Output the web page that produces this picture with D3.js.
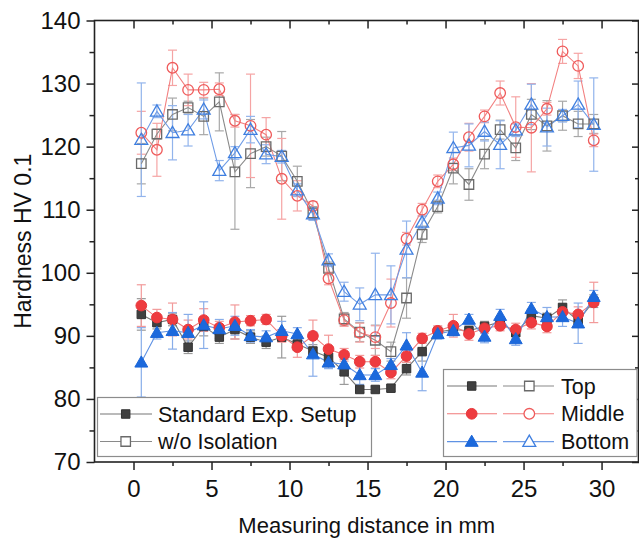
<!DOCTYPE html>
<html>
<head>
<meta charset="utf-8">
<script src="https://cdn.jsdelivr.net/npm/d3@7"></script>
<style>
  body { margin: 0; background: #fff; }
  text { font-family: Arial, "Liberation Sans", sans-serif; fill: #111; }
</style>
</head>
<body>
<div class="chart"></div>
<script>
// Data
var distance = [0.5, 1.5, 2.5, 3.5, 4.5, 5.5, 6.5, 7.5, 8.5, 9.5, 10.5, 11.5, 12.5, 13.5, 14.5,
  15.5, 16.5, 17.5, 18.5, 19.5, 20.5, 21.5, 22.5, 23.5, 24.5, 25.5, 26.5, 27.5, 28.5, 29.5];

// Standard Exp. Setup
var topStd = [93.4, 92.1, 92.6, 88.2, 91.5, 89.8, 91.0, 89.8, 89.0, 89.8, 88.7, 87.6, 86.6, 84.3, 81.5,
  81.5, 81.7, 84.8, 87.5, 90.6, 91.0, 90.8, 91.5, 92.2, 90.5, 93.2, 92.8, 94.5, 92.4, 95.5];
var topStdErr = [2.5, 1.0, 1.0, 1.0, 1.5, 1.0, 1.5, 1.0, 1.0, 3.3, 1.0, 1.0, 1.5, 2.0, 0.5,
  0.5, 0.5, 1.0, 1.5, 0.8, 0.8, 0.8, 0.8, 0.8, 1.0, 1.0, 0.8, 1.2, 1.0, 1.0];
var middleStd = [94.8, 92.9, 92.6, 91.0, 92.5, 91.3, 92.2, 92.4, 92.6, 90.0, 88.2, 90.0, 87.9, 87.0, 85.9,
  85.9, 84.2, 86.8, 89.6, 90.8, 91.6, 90.3, 91.2, 91.6, 91.0, 92.1, 91.5, 93.8, 93.4, 95.3];
var middleStdErr = [3.3, 1.3, 2.6, 1.5, 1.8, 1.0, 2.7, 0.8, 0.8, 1.0, 1.6, 2.5, 2.2, 1.0, 1.0,
  1.0, 1.0, 1.0, 0.8, 0.8, 1.8, 1.0, 0.8, 0.8, 1.0, 1.0, 1.0, 1.0, 1.2, 3.2];
var bottomStd = [85.8, 90.5, 90.8, 90.5, 91.7, 91.1, 91.6, 90.0, 89.8, 90.8, 90.3, 87.1, 85.8, 85.5, 83.8,
  83.8, 85.4, 88.5, 84.2, 90.3, 90.8, 92.6, 89.9, 93.2, 89.5, 94.3, 93.0, 93.0, 92.0, 96.2];
var bottomStdErr = [5.5, 1.0, 2.9, 2.9, 3.7, 1.5, 1.5, 1.0, 1.0, 1.5, 1.0, 3.5, 1.0, 1.5, 1.5,
  1.0, 1.0, 2.0, 2.9, 0.8, 0.8, 0.8, 1.0, 1.0, 1.0, 1.0, 1.5, 1.5, 3.2, 1.0];

// w/o Isolation
var topWo = [117.3, 122.0, 125.1, 126.2, 124.8, 127.1, 116.0, 118.9, 120.0, 118.5, 114.5, 109.5, 100.7, 92.7, 90.6,
  89.3, 87.5, 96.0, 106.1, 110.5, 116.6, 114.0, 118.8, 122.7, 119.8, 125.1, 123.3, 124.9, 123.6, 123.6];
var topWoErr = [3.2, 0.8, 2.6, 1.0, 2.9, 4.6, 9.1, 5.4, 1.5, 3.9, 2.4, 1.0, 1.0, 1.0, 1.5,
  2.4, 1.5, 3.2, 1.3, 1.0, 2.5, 2.5, 2.3, 1.5, 2.0, 2.4, 4.0, 2.3, 2.0, 1.5];
var middleWo = [122.2, 119.5, 132.5, 129.0, 129.0, 129.1, 124.1, 123.3, 121.9, 114.9, 112.2, 110.6, 99.1, 92.5, 90.5,
  89.8, 95.2, 105.4, 110.0, 114.5, 117.2, 121.5, 124.8, 128.5, 123.1, 123.0, 126.0, 135.1, 132.8, 121.0];
var middleWoErr = [3.4, 4.2, 2.8, 2.5, 1.2, 1.0, 1.0, 8.2, 2.7, 6.4, 2.4, 0.7, 1.0, 1.0, 1.5,
  1.8, 3.8, 1.0, 1.0, 1.0, 1.0, 2.2, 1.0, 1.9, 4.8, 7.0, 1.0, 1.9, 2.0, 1.0];
var bottomWo = [121.1, 125.6, 122.2, 122.6, 125.9, 116.2, 119.0, 122.7, 118.8, 118.4, 113.1, 109.3, 102.0, 97.0, 95.0,
  96.5, 96.5, 103.7, 108.0, 111.8, 119.8, 120.2, 122.4, 120.3, 122.6, 126.7, 123.1, 124.9, 126.7, 123.5];
var bottomWoErr = [9.0, 1.0, 4.3, 2.5, 1.5, 1.6, 1.0, 2.1, 1.5, 1.0, 1.0, 1.0, 1.0, 1.5, 2.6,
  6.6, 4.6, 4.5, 1.0, 1.0, 2.5, 3.4, 1.5, 3.8, 1.0, 3.2, 3.0, 1.0, 3.7, 7.4];

var xTicks = [0, 5, 10, 15, 20, 25, 30];
var yTicks = [70, 80, 90, 100, 110, 120, 130, 140];
var legendNames = ["Top", "Middle", "Bottom"];
var setupNames = ["Standard Exp. Setup", "w/o Isolation"];

var svgWidth = 639;
var svgHeight = 539;
var margin = { top: 20.5, right: 0, bottom: 77, left: 94.5 };
var width = svgWidth - margin.left - margin.right;
var height = svgHeight - margin.top - margin.bottom;

var svg = d3.select(".chart")
  .append("svg")
  .attr("width", svgWidth)
  .attr("height", svgHeight);

var chartGroup = svg.append("g")
  .attr("transform", `translate(${margin.left}, ${margin.top})`);

var xScale = d3.scaleLinear().domain([-2.5, 32.4]).range([0, width]);
var yScale = d3.scaleLinear().domain([70, 140]).range([height, 0]);

// series styles
var series = [
  { y: topWo, err: topWoErr, shape: "square", filled: false, line: "#8a8a8a", stroke: "#6a6a6a", errColor: "#a8a8a8" },
  { y: middleWo, err: middleWoErr, shape: "circle", filled: false, line: "#f28080", stroke: "#ef5a5a", errColor: "#f5a4a4" },
  { y: bottomWo, err: bottomWoErr, shape: "triangle", filled: false, line: "#6f9ce6", stroke: "#3f7fe0", errColor: "#92b4ec" },
  { y: topStd, err: topStdErr, shape: "square", filled: true, line: "#777777", stroke: "#333333", fill: "#404040", errColor: "#9a9a9a" },
  { y: middleStd, err: middleStdErr, shape: "circle", filled: true, line: "#f07a7a", stroke: "#e8383c", fill: "#ee3b3f", errColor: "#f29a9a" },
  { y: bottomStd, err: bottomStdErr, shape: "triangle", filled: true, line: "#5f92e4", stroke: "#1b66d8", fill: "#1c69dc", errColor: "#88ade9" }
];

function symbolPath(shape, filled) {
  if (shape === "square") return d3.symbol().type(d3.symbolSquare).size(filled ? 72 : 90)();
  if (shape === "circle") return d3.symbol().type(d3.symbolCircle).size(filled ? 90 : 88)();
  return d3.symbol().type(d3.symbolTriangle).size(filled ? 72 : 72)();
}

// Error bars first, then lines, then markers
series.forEach(function(s) {
  var pts = distance.map((d, i) => ({ x: d, y: s.y[i], e: s.err[i] }));
  var eg = chartGroup.append("g");
  pts.forEach(function(p) {
    var cx = xScale(p.x);
    eg.append("line")
      .attr("x1", cx).attr("x2", cx)
      .attr("y1", yScale(p.y + p.e)).attr("y2", yScale(p.y - p.e))
      .attr("stroke", s.errColor).attr("stroke-width", 1.2);
    [p.y + p.e, p.y - p.e].forEach(function(v) {
      eg.append("line")
        .attr("x1", cx - 4.5).attr("x2", cx + 4.5)
        .attr("y1", yScale(v)).attr("y2", yScale(v))
        .attr("stroke", s.errColor).attr("stroke-width", 1.2);
    });
  });
});

series.forEach(function(s) {
  var pts = distance.map((d, i) => ({ x: d, y: s.y[i] }));
  chartGroup.append("path")
    .datum(pts)
    .attr("fill", "none")
    .attr("stroke", s.line)
    .attr("stroke-width", 1.1)
    .attr("d", d3.line().x(d => xScale(d.x)).y(d => yScale(d.y)));
});

series.forEach(function(s) {
  var pts = distance.map((d, i) => ({ x: d, y: s.y[i] }));
  chartGroup.append("g").selectAll("path")
    .data(pts)
    .enter()
    .append("path")
    .attr("transform", d => `translate(${xScale(d.x)}, ${yScale(d.y) + (s.shape === "triangle" ? 1 : 0)})`)
    .attr("d", symbolPath(s.shape, s.filled))
    .attr("fill", s.filled ? s.fill : "none")
    .attr("stroke", s.stroke)
    .attr("stroke-width", s.filled ? 1 : 1.3);
});

// Axes
var axisColor = "#222";
function styleAxis(g) {
  g.select(".domain").remove();
  g.selectAll("line").attr("stroke", axisColor).attr("stroke-width", 1.5);
}

var xMinor = d3.range(-2.5, 32.5, 2.5).filter(v => xTicks.indexOf(v) < 0 && v >= -2.5);
var yMinor = d3.range(75, 140, 10);

chartGroup.append("g")
  .attr("transform", `translate(0, ${height})`)
  .call(d3.axisBottom(xScale).tickValues(xTicks).tickSize(8).tickPadding(10).tickFormat(d3.format("d")))
  .call(styleAxis)
  .call(g => g.selectAll("text").attr("font-size", "24px").attr("fill", "#111"));
chartGroup.append("g")
  .attr("transform", `translate(0, ${height})`)
  .call(d3.axisBottom(xScale).tickValues(xMinor.filter(v => v > -2.5)).tickSize(4).tickFormat(""))
  .call(styleAxis);
chartGroup.append("g")
  .call(d3.axisBottom(xScale).tickValues(xTicks).tickSize(8).tickFormat(""))
  .call(styleAxis);
chartGroup.append("g")
  .call(d3.axisBottom(xScale).tickValues(xMinor.filter(v => v > -2.5)).tickSize(4).tickFormat(""))
  .call(styleAxis);

chartGroup.append("g")
  .call(d3.axisLeft(yScale).tickValues(yTicks).tickSize(8).tickPadding(6))
  .call(styleAxis)
  .call(g => g.selectAll("text").attr("font-size", "24px").attr("fill", "#111"));
chartGroup.append("g")
  .call(d3.axisLeft(yScale).tickValues(yMinor).tickSize(5).tickFormat(""))
  .call(styleAxis);
chartGroup.append("g")
  .attr("transform", `translate(${width}, 0)`)
  .call(d3.axisRight(yScale).tickValues(yTicks).tickSize(-7).tickFormat(""))
  .call(styleAxis);
chartGroup.append("g")
  .attr("transform", `translate(${width}, 0)`)
  .call(d3.axisRight(yScale).tickValues(yMinor).tickSize(-4).tickFormat(""))
  .call(styleAxis);

// plot frame
chartGroup.append("rect")
  .attr("x", 0).attr("y", 0)
  .attr("width", width - 0.5).attr("height", height)
  .attr("fill", "none")
  .attr("stroke", axisColor)
  .attr("stroke-width", 1.6);

// Axis titles
chartGroup.append("text")
  .attr("transform", "rotate(-90)")
  .attr("x", -(height / 2) + 0)
  .attr("y", -margin.left + 31)
  .attr("text-anchor", "middle")
  .attr("font-size", "23px")
  .text("Hardness HV 0.1");

chartGroup.append("text")
  .attr("x", width / 2)
  .attr("y", height + 71)
  .attr("text-anchor", "middle")
  .attr("font-size", "22px")
  .text("Measuring distance in mm");

// Legends
function legendMarker(g, s, cx, cy, x1, x2) {
  g.append("line")
    .attr("x1", x1).attr("x2", x2).attr("y1", cy).attr("y2", cy)
    .attr("stroke", s.line).attr("stroke-width", 1.1);
  g.append("path")
    .attr("transform", `translate(${cx}, ${cy + (s.shape === "triangle" ? 1 : 0)})`)
    .attr("d", symbolPath(s.shape, s.filled))
    .attr("fill", s.filled ? s.fill : "#fff")
    .attr("stroke", s.stroke)
    .attr("stroke-width", s.filled ? 1 : 1.3);
}

var leg1 = svg.append("g");
leg1.append("rect")
  .attr("x", 97.5).attr("y", 397.5).attr("width", 274).attr("height", 59)
  .attr("fill", "#fff").attr("stroke", "#8c8c8c").attr("stroke-width", 1.2);
legendMarker(leg1, series[3], 125.7, 414, 100, 152);
legendMarker(leg1, series[0], 125.7, 441.5, 100, 152);
setupNames.forEach(function(name, i) {
  leg1.append("text")
    .attr("x", 158)
    .attr("y", 414 + i * 27.5 + 7.5)
    .attr("font-size", "21.5px")
    .text(name);
});

var leg2 = svg.append("g");
leg2.append("rect")
  .attr("x", 443.5).attr("y", 369.5).attr("width", 193.5).attr("height", 87)
  .attr("fill", "#fff").attr("stroke", "#8c8c8c").attr("stroke-width", 1.2);
legendNames.forEach(function(name, i) {
  var cy = 386 + i * 27.8;
  legendMarker(leg2, series[3 + i], 471.7, cy, 447, 497);
  legendMarker(leg2, series[i], 529.3, cy, 503, 554);
  leg2.append("text")
    .attr("x", 561)
    .attr("y", cy + 7.5)
    .attr("font-size", "21.5px")
    .text(name);
});
</script>
</body>
</html>
